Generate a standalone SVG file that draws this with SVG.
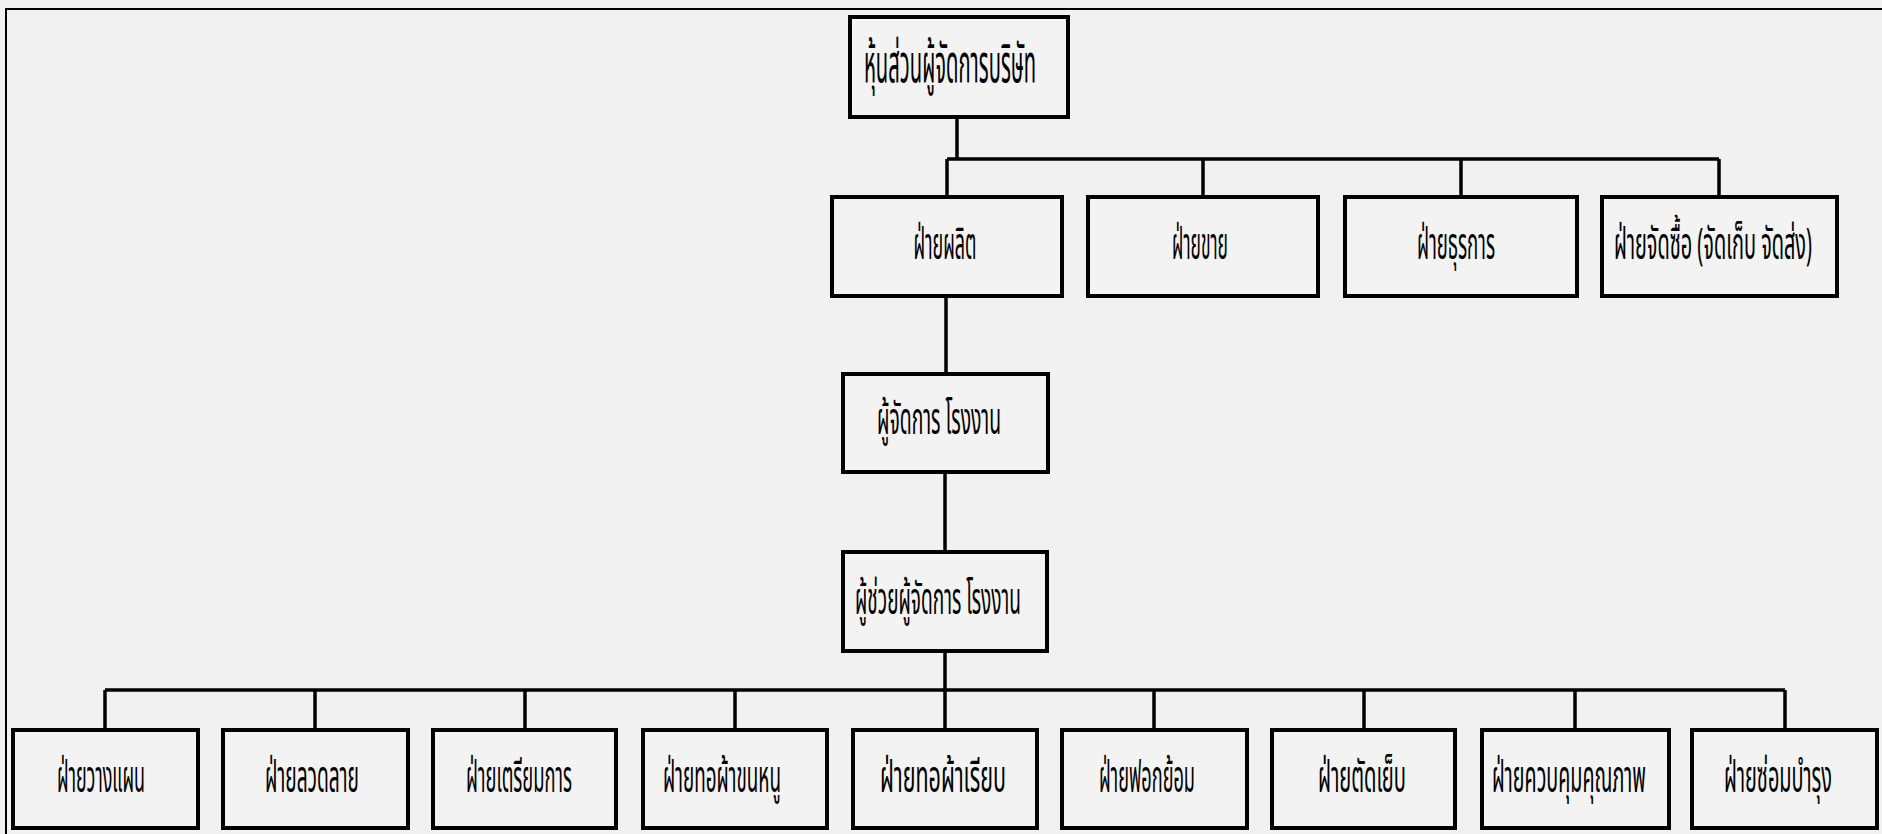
<svg xmlns="http://www.w3.org/2000/svg" width="1882" height="834" viewBox="0 0 1882 834">
<style>
.bg{fill:#f1f1f1}
.box{fill:#f3f3f3;stroke:#000;stroke-width:4}
.ln{fill:none;stroke:#000;stroke-width:3.5}
.frame{fill:none;stroke:#000;stroke-width:2}
text{font-family:"Noto Sans Thai","Noto Sans","DejaVu Sans",sans-serif;font-size:44px;fill:#000;text-anchor:middle}
.big{font-size:54px}
</style>
<rect class="bg" x="0" y="0" width="1882" height="834"/>
<path class="frame" d="M6,834 V9 H1882"/>
<g id="connectors">
<path class="ln" d="M957,117 V159"/>
<path class="ln" d="M947,159 H1719"/>
<path class="ln" d="M947,159 V197"/>
<path class="ln" d="M1203,159 V197"/>
<path class="ln" d="M1461,159 V197"/>
<path class="ln" d="M1719,159 V197"/>
<path class="ln" d="M946,296 V374"/>
<path class="ln" d="M945,472 V552"/>
<path class="ln" d="M945,651 V730"/>
<path class="ln" d="M105,690 H1785"/>
<path class="ln" d="M105,690 V730"/>
<path class="ln" d="M315,690 V730"/>
<path class="ln" d="M525,690 V730"/>
<path class="ln" d="M735,690 V730"/>
<path class="ln" d="M1154,690 V730"/>
<path class="ln" d="M1364,690 V730"/>
<path class="ln" d="M1575,690 V730"/>
<path class="ln" d="M1785,690 V730"/>
</g>
<g id="n-top"><rect class="box" x="850" y="17" width="218" height="100"/><text class="big" x="950" y="82" textLength="172" lengthAdjust="spacingAndGlyphs">หุ้นส่วนผู้จัดการบริษัท</text></g>
<g id="n-production"><rect class="box" x="832" y="197" width="230" height="99"/><text x="945" y="259" textLength="63" lengthAdjust="spacingAndGlyphs">ฝ่ายผลิต</text></g>
<g id="n-sales"><rect class="box" x="1088" y="197" width="230" height="99"/><text x="1200" y="259" textLength="56" lengthAdjust="spacingAndGlyphs">ฝ่ายขาย</text></g>
<g id="n-admin"><rect class="box" x="1345" y="197" width="232" height="99"/><text x="1456" y="259" textLength="78" lengthAdjust="spacingAndGlyphs">ฝ่ายธุรการ</text></g>
<g id="n-purchase"><rect class="box" x="1602" y="197" width="235" height="99"/><text x="1713" y="259" textLength="198" lengthAdjust="spacingAndGlyphs">ฝ่ายจัดซื้อ (จัดเก็บ จัดส่ง)</text></g>
<g id="n-factory-mgr"><rect class="box" x="843" y="374" width="205" height="98"/><text x="939" y="434" textLength="124" lengthAdjust="spacingAndGlyphs">ผู้จัดการ โรงงาน</text></g>
<g id="n-asst-mgr"><rect class="box" x="843" y="552" width="204" height="99"/><text x="938" y="614" textLength="166" lengthAdjust="spacingAndGlyphs">ผู้ช่วยผู้จัดการ โรงงาน</text></g>
<g id="n-planning"><rect class="box" x="13" y="730" width="185" height="98"/><text x="101" y="792" textLength="88" lengthAdjust="spacingAndGlyphs">ฝ่ายวางแผน</text></g>
<g id="n-pattern"><rect class="box" x="223" y="730" width="185" height="98"/><text x="312" y="792" textLength="94" lengthAdjust="spacingAndGlyphs">ฝ่ายลวดลาย</text></g>
<g id="n-prep"><rect class="box" x="433" y="730" width="183" height="98"/><text x="519" y="792" textLength="106" lengthAdjust="spacingAndGlyphs">ฝ่ายเตรียมการ</text></g>
<g id="n-towel"><rect class="box" x="643" y="730" width="184" height="98"/><text x="722" y="792" textLength="118" lengthAdjust="spacingAndGlyphs">ฝ่ายทอผ้าขนหนู</text></g>
<g id="n-plain"><rect class="box" x="853" y="730" width="184" height="98"/><text x="943" y="792" textLength="126" lengthAdjust="spacingAndGlyphs">ฝ่ายทอผ้าเรียบ</text></g>
<g id="n-dye"><rect class="box" x="1062" y="730" width="185" height="98"/><text x="1147" y="792" textLength="96" lengthAdjust="spacingAndGlyphs">ฝ่ายฟอกย้อม</text></g>
<g id="n-sew"><rect class="box" x="1272" y="730" width="183" height="98"/><text x="1362" y="792" textLength="88" lengthAdjust="spacingAndGlyphs">ฝ่ายตัดเย็บ</text></g>
<g id="n-qc"><rect class="box" x="1482" y="730" width="187" height="98"/><text x="1569" y="792" textLength="154" lengthAdjust="spacingAndGlyphs">ฝ่ายควบคุมคุณภาพ</text></g>
<g id="n-maint"><rect class="box" x="1692" y="730" width="185" height="98"/><text x="1778" y="792" textLength="108" lengthAdjust="spacingAndGlyphs">ฝ่ายซ่อมบำรุง</text></g>
</svg>
